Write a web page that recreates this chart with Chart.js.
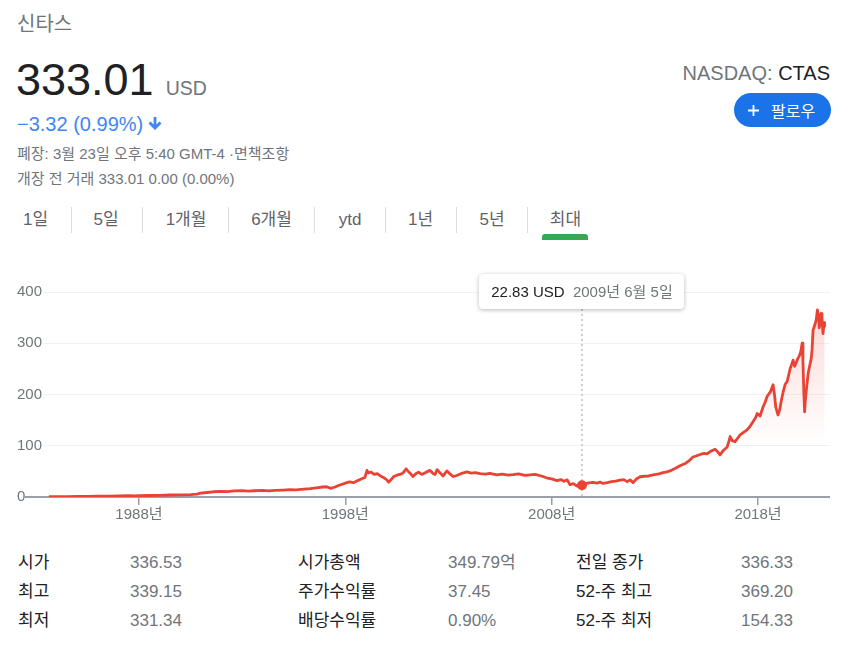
<!DOCTYPE html>
<html lang="ko">
<head>
<meta charset="utf-8">
<script src="https://cdn.jsdelivr.net/npm/chart.js@4.4.1/dist/chart.umd.min.js"></script>
<style>
  body { margin: 0; width: 854px; height: 655px; overflow: hidden; background: #fff;
         font-family: Arial, "Liberation Sans", "Noto Sans CJK KR", sans-serif; color: #202124; }
  .abs { position: absolute; white-space: nowrap; }
  .gray { color: #70757a; }
  .tab { position: absolute; top: 211px; width: 90px; text-align: center; font-size: 17px; line-height: 17px; color: #5f6368; }
  .sep { position: absolute; top: 207px; width: 1px; height: 26px; background: #dadce0; }
  .st { position: absolute; font-size: 17px; line-height: 17px; white-space: nowrap; }
  .st.v { color: #70757a; }
  #tip { position: absolute; top: 274px; height: 35px; width: 205px; background: #fff; border-radius: 4px;
         box-shadow: 0 1px 4px rgba(0,0,0,0.28); font-size: 15px; line-height: 35px; text-align: center; white-space: nowrap; }
</style>
</head>
<body>
<div class="abs gray" style="left:17px; top:14px; font-size:20px; line-height:20px;">신타스</div>
<div class="abs" style="left:16px; top:57px; line-height:45px;">
  <span style="font-size:45px; color:#202124;">333.01</span><span class="gray" style="font-size:19.5px; margin-left:12px;">USD</span>
</div>
<div class="abs" style="left:17px; top:114px; font-size:20px; line-height:20px; color:#4285f4;">−3.32 (0.99%)</div>
<svg class="abs" style="left:148px; top:117px;" width="14" height="14" viewBox="0 0 14 14"><path fill="#4285f4" d="M5.6 0h2.8v7.6l3.1-3.1 2 2L7 13 0.5 6.5l2-2 3.1 3.1z"/></svg>
<div class="abs gray" style="left:17px; top:146px; font-size:15px; line-height:15px;">폐장: 3월 23일 오후 5:40 GMT-4 ·면책조항</div>
<div class="abs gray" style="left:17px; top:171px; font-size:15px; line-height:15px;">개장 전 거래 333.01 0.00 (0.00%)</div>

<div class="abs" style="right:24px; top:63px; font-size:20px; line-height:20px;"><span class="gray">NASDAQ:</span> CTAS</div>
<div class="abs" style="left:734px; top:93px; width:97px; height:34px; border-radius:17px; background:#1a73e8; color:#fff; display:flex; align-items:center;">
  <svg style="margin-left:14px;" width="11" height="11" viewBox="0 0 11 11"><path d="M5.5 0v11M0 5.5h11" stroke="#fff" stroke-width="1.8"/></svg>
  <span style="margin-left:12px; font-size:16px;">팔로우</span>
</div>

<div class="tab" style="left:-9.5px;">1일</div>
<div class="tab" style="left:61px;">5일</div>
<div class="tab" style="left:141px;">1개월</div>
<div class="tab" style="left:226.5px;">6개월</div>
<div class="tab" style="left:305px;">ytd</div>
<div class="tab" style="left:375.5px;">1년</div>
<div class="tab" style="left:447px;">5년</div>
<div class="tab" style="left:520.5px;">최대</div>
<div class="sep" style="left:71px;"></div>
<div class="sep" style="left:142px;"></div>
<div class="sep" style="left:228px;"></div>
<div class="sep" style="left:314px;"></div>
<div class="sep" style="left:385px;"></div>
<div class="sep" style="left:456px;"></div>
<div class="sep" style="left:527px;"></div>
<div class="abs" style="left:542px; top:234px; width:46px; height:6px; background:#34a853; border-radius:3px 3px 0 0;"></div>

<canvas id="chart" class="abs" style="left:0; top:280px;" width="854" height="250"></canvas>
<div id="tip"></div>

<div class="st" style="left:18px; top:554px;">시가</div>
<div class="st" style="left:18px; top:583px;">최고</div>
<div class="st" style="left:18px; top:612px;">최저</div>
<div class="st v" style="left:130px; top:554px;">336.53</div>
<div class="st v" style="left:130px; top:583px;">339.15</div>
<div class="st v" style="left:130px; top:612px;">331.34</div>
<div class="st" style="left:298px; top:554px;">시가총액</div>
<div class="st" style="left:298px; top:583px;">주가수익률</div>
<div class="st" style="left:298px; top:612px;">배당수익률</div>
<div class="st v" style="left:448px; top:554px;">349.79억</div>
<div class="st v" style="left:448px; top:583px;">37.45</div>
<div class="st v" style="left:448px; top:612px;">0.90%</div>
<div class="st" style="left:576px; top:554px;">전일 종가</div>
<div class="st" style="left:576px; top:583px;">52-주 최고</div>
<div class="st" style="left:576px; top:612px;">52-주 최저</div>
<div class="st v" style="left:741px; top:554px;">336.33</div>
<div class="st v" style="left:741px; top:583px;">369.20</div>
<div class="st v" style="left:741px; top:612px;">154.33</div>

<script>
// Price history (decimal year, USD)
let years = [
    1983.64, 1984.0, 1984.5, 1985.0, 1985.5, 1986.0, 1986.5, 1987.0, 1987.5, 1987.8,
    1988.0, 1988.5, 1989.0, 1989.5, 1990.0, 1990.5, 1990.8, 1991.0, 1991.3, 1991.6,
    1992.0, 1992.3, 1992.6, 1993.0, 1993.3, 1993.6, 1994.0, 1994.3, 1994.6, 1995.0,
    1995.3, 1995.6, 1996.0, 1996.3, 1996.6, 1996.9, 1997.1, 1997.3, 1997.5, 1997.7,
    1997.9, 1998.0, 1998.2, 1998.4, 1998.6, 1998.8, 1998.95, 1999.05, 1999.12, 1999.25,
    1999.4, 1999.55, 1999.7, 1999.85, 2000.0, 2000.1, 2000.2, 2000.35, 2000.5, 2000.65,
    2000.8, 2000.95, 2001.05, 2001.15, 2001.28, 2001.4, 2001.55, 2001.7, 2001.85, 2002.0,
    2002.11, 2002.25, 2002.35, 2002.45, 2002.55, 2002.65, 2002.74, 2002.85, 2002.93, 2003.05,
    2003.22, 2003.4, 2003.6, 2003.9, 2004.1, 2004.3, 2004.53, 2004.8, 2005.0, 2005.35,
    2005.6, 2005.9, 2006.13, 2006.4, 2006.7, 2006.95, 2007.2, 2007.5, 2007.78, 2008.0,
    2008.26, 2008.45, 2008.6, 2008.75, 2008.89, 2009.05, 2009.23, 2009.35, 2009.47, 2009.6,
    2009.8, 2010.0, 2010.2, 2010.35, 2010.49, 2010.7, 2010.9, 2011.1, 2011.32, 2011.5,
    2011.66, 2011.8, 2011.95, 2012.1, 2012.29, 2012.5, 2012.7, 2012.92, 2013.2, 2013.4,
    2013.59, 2013.8, 2014.0, 2014.22, 2014.5, 2014.7, 2014.85, 2015.0, 2015.2, 2015.4,
    2015.53, 2015.7, 2015.92, 2016.05, 2016.16, 2016.3, 2016.5, 2016.6, 2016.65, 2016.75,
    2016.89, 2017.0, 2017.13, 2017.3, 2017.47, 2017.6, 2017.76, 2017.9, 2017.96, 2018.1,
    2018.25, 2018.35, 2018.44, 2018.6, 2018.73, 2018.8, 2018.86, 2018.97, 2019.05, 2019.15,
    2019.22, 2019.32, 2019.41, 2019.5, 2019.56, 2019.63, 2019.7, 2019.78, 2019.85, 2019.93,
    2020.0, 2020.08, 2020.14, 2020.18, 2020.22, 2020.26, 2020.3, 2020.36, 2020.43, 2020.5,
    2020.58, 2020.62, 2020.67, 2020.75, 2020.82, 2020.88, 2020.93, 2020.97, 2021.01, 2021.06,
    2021.1, 2021.15, 2021.2, 2021.23
];
let prices = [
    0.6, 0.7, 0.8, 1.0, 1.2, 1.5, 1.9, 2.3, 2.8, 2.2,
    2.6, 2.9, 3.3, 3.9, 4.2, 4.6, 5.5, 7.5, 8.8, 10.2,
    11.0, 10.4, 11.8, 12.5, 11.6, 12.2, 12.8, 12.1, 13.0, 13.6,
    14.2, 13.8, 15.5, 16.2, 17.8, 19.5, 20.0, 16.8, 19.5, 23.0,
    25.5, 27.0, 29.5, 28.0, 32.0, 35.5, 38.0, 52.0, 47.0, 48.5,
    44.0, 45.5, 41.0, 38.0, 34.0, 29.0, 33.0, 40.0, 42.5, 44.0,
    47.0, 55.0, 50.0, 46.0, 40.0, 45.0, 48.5, 44.0, 47.0, 50.0,
    52.0, 46.0, 44.0, 53.5, 49.0, 45.0, 41.0, 47.0, 51.0, 46.0,
    40.0, 42.0, 45.5, 49.0, 46.5, 47.5, 45.5, 44.5, 46.0, 43.0,
    44.5, 42.5, 43.5, 45.0, 42.0, 43.0, 44.0, 41.0, 37.0, 35.5,
    32.0, 34.0, 30.5, 33.5, 24.0, 26.0, 21.5, 24.0, 22.83, 25.5,
    27.5, 28.5, 27.0, 29.0, 26.5, 28.0, 30.0, 31.0, 33.0, 34.0,
    30.0, 33.5, 28.0, 35.0, 39.5, 40.5, 41.0, 43.0, 45.0, 47.5,
    49.0, 52.0, 56.0, 61.0, 66.0, 72.0, 78.0, 80.0, 83.0, 85.0,
    84.0, 89.0, 93.0, 88.0, 82.0, 90.0, 97.0, 110.0, 118.0, 110.0,
    108.0, 114.0, 121.0, 126.0, 131.0, 137.0, 147.0, 156.0, 163.0, 158.0,
    176.0, 185.0, 196.0, 205.0, 219.0, 200.0, 176.0, 160.0, 170.0, 192.0,
    205.0, 220.0, 225.0, 240.0, 251.0, 258.0, 267.0, 255.0, 262.0, 270.0,
    275.0, 285.0, 300.0, 265.0, 205.0, 166.0, 190.0, 215.0, 241.0, 255.0,
    270.0, 287.0, 326.0, 335.0, 345.0, 365.0, 355.0, 330.0, 339.0, 358.0,
    350.0, 319.0, 340.0, 333.0
];
let yearTicks = [1988, 1998, 2008, 2018];
let priceTicks = [0, 100, 200, 300, 400];

// Hovered point shown in the tooltip
const hoverYear = 2009.47;
const hoverPrice = 22.83;
const hoverDate = '2009년 6월 5일';

const RED = '#ea4335';
const FONT = 'Arial, "Liberation Sans", "Noto Sans CJK KR", sans-serif';

let points = years.map((y, i) => ({ x: y, y: prices[i] }));

const hoverPlugin = {
    id: 'hover',
    beforeDatasetsDraw(chart) {
        const { ctx, chartArea, scales } = chart;
        const y0 = scales.y.getPixelForValue(0);
        ctx.save();
        ctx.strokeStyle = '#9aa0a6';
        ctx.lineWidth = 2;
        ctx.beginPath();
        ctx.moveTo(25, y0);
        ctx.lineTo(chartArea.right, y0);
        ctx.stroke();
        ctx.restore();
    },
    afterDatasetsDraw(chart) {
        const { ctx, chartArea, scales } = chart;
        const px = scales.x.getPixelForValue(hoverYear);
        const py = scales.y.getPixelForValue(hoverPrice);
        ctx.save();
        ctx.strokeStyle = '#bdc1c6';
        ctx.lineWidth = 1.5;
        ctx.setLineDash([2, 3]);
        ctx.beginPath();
        ctx.moveTo(px, 29);
        ctx.lineTo(px, chartArea.bottom);
        ctx.stroke();
        ctx.setLineDash([]);
        ctx.fillStyle = RED;
        ctx.beginPath();
        ctx.arc(px, py, 5, 0, Math.PI * 2);
        ctx.fill();
        ctx.restore();

        const tip = document.getElementById('tip');
        tip.style.left = (chart.canvas.offsetLeft + px - 102.5) + 'px';
        tip.innerHTML = '<span style="color:#202124">' + hoverPrice.toFixed(2) + ' USD</span>&nbsp;&nbsp;<span style="color:#70757a">' + hoverDate + '</span>';
    }
};

function fillGradient(context) {
    const area = context.chart.chartArea;
    if (!area) return 'rgba(234,67,53,0)';
    const g = context.chart.ctx.createLinearGradient(0, area.top, 0, area.top + area.height * 0.75);
    g.addColorStop(0, 'rgba(234,67,53,0.22)');
    g.addColorStop(1, 'rgba(234,67,53,0)');
    return g;
}

var ctx = document.getElementById('chart').getContext('2d');
var priceChart = new Chart(ctx, {
    type: 'line',
    data: {
        datasets: [{
            data: points,
            borderColor: RED,
            borderWidth: 2.8,
            borderJoinStyle: 'round',
            pointRadius: 0,
            tension: 0,
            fill: 'origin',
            backgroundColor: fillGradient
        }]
    },
    options: {
        responsive: false,
        animation: false,
        layout: { padding: { left: 17, right: 24, top: 12, bottom: 0 } },
        plugins: { legend: { display: false }, tooltip: { enabled: false } },
        scales: {
            x: {
                type: 'linear',
                min: 1983.35,
                max: 2021.49,
                afterBuildTicks: s => { s.ticks = yearTicks.map(v => ({ value: v })); },
                afterFit: s => { s.height = 33; },
                ticks: {
                    callback: v => v + '년',
                    color: '#70757a',
                    font: { family: FONT, size: 15 },
                    padding: 1,
                    maxRotation: 0,
                    autoSkip: false
                },
                grid: { drawOnChartArea: false, drawTicks: true, tickLength: 8, color: '#9aa0a6', lineWidth: 1.5 },
                border: { display: false }
            },
            y: {
                min: 0,
                max: 400,
                afterBuildTicks: s => { s.ticks = priceTicks.map(v => ({ value: v })); },
                afterFit: s => { s.width = 26; },
                ticks: {
                    crossAlign: 'far',
                    color: '#70757a',
                    font: { family: FONT, size: 15 },
                    padding: 0
                },
                grid: { color: '#f1f1f1', lineWidth: 1, drawTicks: false },
                border: { display: false }
            }
        }
    },
    plugins: [hoverPlugin]
});
</script>
</body>
</html>
